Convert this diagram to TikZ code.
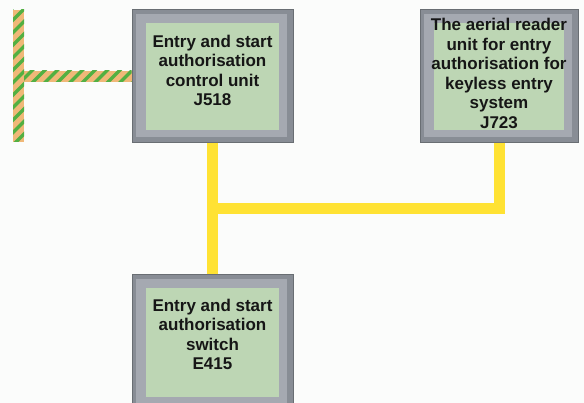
\documentclass[tikz,border=0pt]{standalone}
\usepackage{fontspec}
\setmainfont{Liberation Sans}
\usetikzlibrary{calc}

\definecolor{paper}{RGB}{251,252,251}
\definecolor{panelgreen}{RGB}{189,214,180}
\definecolor{framelight}{RGB}{165,169,177}
\definecolor{framedark}{RGB}{136,141,149}
\definecolor{frameedge}{RGB}{105,110,115}
\definecolor{busyellow}{RGB}{255,226,51}
\definecolor{harnessorange}{RGB}{240,184,120}
\definecolor{stripegreen}{RGB}{82,176,66}
\definecolor{textblack}{RGB}{22,22,22}

\tikzset{
    unit/.style={draw=frameedge, line width=1pt, fill=framedark, inner sep=0pt,
        minimum width=161pt, minimum height=133pt,
        path picture={
            \fill[framelight] ([shift={(4pt,-4pt)}]path picture bounding box.north west)
                rectangle ([shift={(-6pt,6pt)}]path picture bounding box.south east);
            \fill[panelgreen] ([shift={(14pt,-13pt)}]path picture bounding box.north west)
                rectangle ([shift={(-14pt,13pt)}]path picture bounding box.south east);
        }},
    unittext/.style={align=center, inner sep=0pt, text=textblack,
        font=\bfseries\fontsize{17}{19.5}\selectfont},
    bus/.style={draw=busyellow, line width=11pt, line join=miter},
    harness/.style={fill=harnessorange},
    stripe/.style={draw=stripegreen, line width=3.5pt}
}

\begin{document}
\begin{tikzpicture}[x=1pt, y=-1pt]
            \useasboundingbox (0,0) rectangle (584,403);
            \clip (0,0) rectangle (584,403);
            \fill[paper] (0,0) rectangle (584,403);

            % control units
            \node[unit] (j518) at (212.5,76.5) {};
            \node[unit, minimum width=158pt] (j723) at (499,76.5) {};
            \node[unit, minimum height=135pt] (e415) at (212.5,342.5) {};

            \node[unittext] (j518text) at ([yshift=6pt]j518.center) {Entry and start\\authorisation\\control unit\\J518};
            \node[unittext] (j723text) at ([yshift=3pt]j723.center) {The aerial reader\\unit for entry\\authorisation for\\keyless entry\\system\\J723};
            \node[unittext] (e415text) at ([yshift=8pt]e415.center) {Entry and start\\authorisation\\switch\\E415};

            % yellow bus
            \coordinate (tee) at (212.5,208.5);
            \draw[bus] (j518.south) -- (e415.north);
            \draw[bus] (j723.south) |- (tee);

            % striped harness on the left
            \coordinate (harnesstop) at (18.5,10);
            \coordinate (harnessbot) at (18.5,142);
            \coordinate (harnesstee) at (24,76.5);
            \fill[harness] ([xshift=-5.5pt]harnesstop) rectangle ([xshift=5.5pt]harnessbot);
            \fill[harness] ([yshift=5.5pt]harnesstee) rectangle ([yshift=-5.5pt]j518.west);
            \begin{scope}
                \clip ([xshift=-5.5pt]harnesstop) rectangle ([xshift=5.5pt]harnessbot);
                \foreach \s in {0,12.5,...,175}
                    \draw[stripe] (8,\s) -- ++(25,-25);
            \end{scope}
            \begin{scope}
                \clip ([yshift=5.5pt]harnesstee) rectangle ([yshift=-5.5pt]j518.west);
                \foreach \s in {0,12.5,...,150}
                    \draw[stripe] (\s,90) -- ++(25,-25);
            \end{scope}
        \end{tikzpicture}
\end{document}
